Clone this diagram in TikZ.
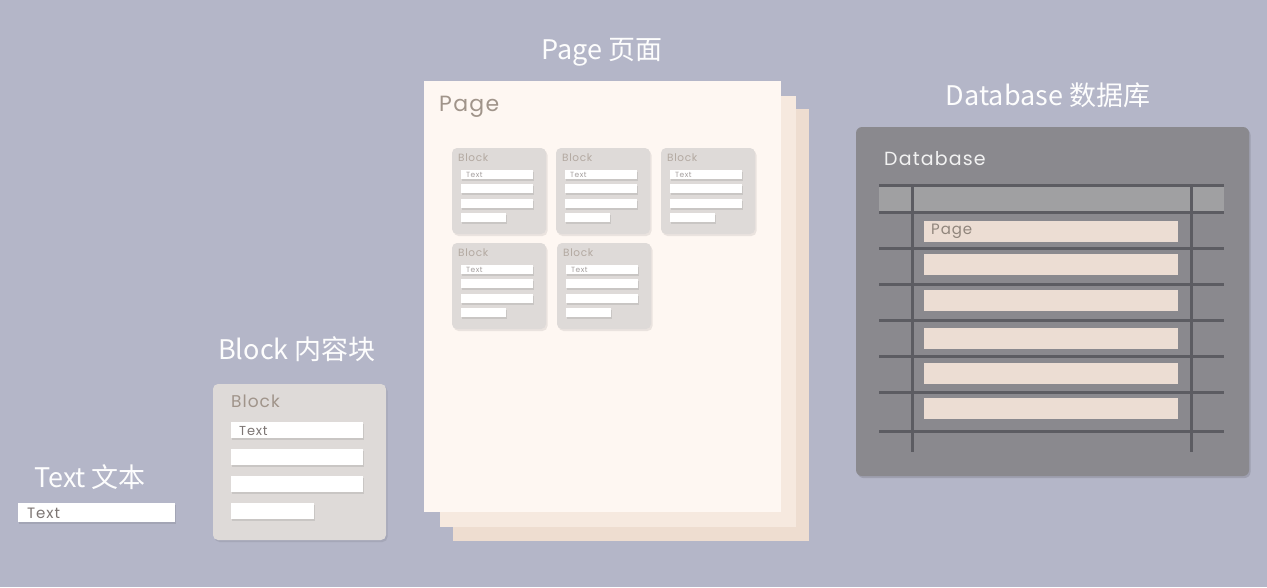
\documentclass[tikz,border=0pt]{standalone}
\usepackage{fontspec}
\setmainfont{Noto Sans CJK SC}
\newfontfamily\geofont[LetterSpace=6]{Poppins}
\usetikzlibrary{shadows}

\definecolor{bgcol}{RGB}{180,182,200}
\definecolor{blockcol}{RGB}{222,218,216}
\definecolor{pagecol}{RGB}{254,247,242}
\definecolor{pagetwo}{RGB}{246,233,223}
\definecolor{pagethree}{RGB}{238,221,208}
\definecolor{titlecol}{RGB}{160,148,138}
\definecolor{bartext}{RGB}{125,118,116}
\definecolor{dbcol}{RGB}{138,137,142}
\definecolor{dbhead}{RGB}{160,160,162}
\definecolor{dbline}{RGB}{92,92,98}
\definecolor{rowcol}{RGB}{236,221,211}

\tikzset{
  heading/.style={text=white!97!bgcol, inner sep=0pt, font=\fontsize{27}{31}\selectfont},
  box/.style={anchor=north west, inner sep=0pt, outer sep=0pt},
  bar/.style={box, fill=white,
    drop shadow={shadow xshift=1pt, shadow yshift=-1.5pt, opacity=.09, fill=black}},
  blockbox/.style={box, fill=blockcol, rounded corners=5pt,
    drop shadow={shadow xshift=1.5pt, shadow yshift=-2pt, opacity=.08, fill=black}},
  bartxt/.style={anchor=west, inner sep=0pt, text=bartext},
  boxtitle/.style={anchor=west, inner sep=0pt, text=titlecol},
  gridline/.style={dbline, line width=3pt},
}

\begin{document}
\begin{tikzpicture}[x=1pt, y=-1pt]
    \fill[bgcol] (0,0) rectangle (1267,587);
    \useasboundingbox (0,0) rectangle (1267,587);

    % text
    \node[heading] (texthead) at (90,477) {Text 文本};
    \node[bar, minimum width=157pt, minimum height=19pt] (textbar) at (18,503) {};
    \node[bartxt, font=\geofont\fontsize{15}{17}\selectfont] (texttxt) at (27,513) {Text};

    % block
    \node[heading] (blockhead) at (297,349) {Block 内容块};
    \node[blockbox, minimum width=173pt, minimum height=156pt] (block) at (213,384) {};
    \node[boxtitle, font=\geofont\fontsize{17}{19}\selectfont] (blocktitle) at (231,401) {Block};
    \foreach \ry/\rw/\nm in {422/132/a, 449/132/b, 476/132/c, 503/83/d}
      \node[bar, minimum width=\rw pt, minimum height=16pt] (blockbar\nm) at (231,\ry) {};
    \node[bartxt, font=\geofont\fontsize{13}{15}\selectfont] (blocktxt) at (239,431) {Text};

    % page stack
    \node[heading] (pagehead) at (602,52) {Page 页面};
    \node[box, fill=pagethree, minimum width=356pt, minimum height=432pt] (pagec) at (453,109) {};
    \node[box, fill=pagetwo, minimum width=356pt, minimum height=431pt] (pageb) at (440,96) {};
    \node[box, fill=pagecol, minimum width=357pt, minimum height=431pt] (page) at (424,81) {};
    \node[boxtitle, font=\geofont\fontsize{22}{24}\selectfont] (pagetitle) at (439,107) {Page};

    \foreach \bx/\by/\nm in {452/148/a, 556/148/b, 661/148/c, 452/243/d, 557/243/e} {
      \node[blockbox, minimum width=94pt, minimum height=86pt] (mini\nm) at (\bx,\by) {};
      \node[boxtitle, text=titlecol!80, font=\geofont\fontsize{10.5}{12}\selectfont]
        (minititle\nm) at (\bx+6,\by+10) {Block};
      \node[bar, minimum width=72pt, minimum height=9pt] (minia\nm) at (\bx+9,\by+22) {};
      \node[bar, minimum width=72pt, minimum height=9pt] (minib\nm) at (\bx+9,\by+36) {};
      \node[bar, minimum width=72pt, minimum height=9pt] (minic\nm) at (\bx+9,\by+51) {};
      \node[bar, minimum width=45pt, minimum height=9pt] (minid\nm) at (\bx+9,\by+65) {};
      \node[bartxt, text=bartext!70, font=\geofont\fontsize{7.5}{9}\selectfont]
        (minitxt\nm) at (\bx+14,\by+26.5) {Text};
    }

    % database
    \node[heading] (dbhead) at (1048,95) {Database 数据库};
    \node[box, fill=dbcol, rounded corners=6pt, minimum width=393pt, minimum height=349pt,
      drop shadow={shadow xshift=1.5pt, shadow yshift=-2pt, opacity=.12, fill=black}] (db) at (856,127) {};
    \node[anchor=west, inner sep=0pt, text=white!95!black,
      font=\geofont\fontsize{19}{21}\selectfont] (dbtitle) at (884,159) {Database};
    \fill[dbhead] (879,185) rectangle (1224,212);
    \foreach \ry/\nm in {221/a, 254/b, 290/c, 328/d, 363/e, 398/f}
      \node[box, fill=rowcol, minimum width=254pt, minimum height=21pt] (row\nm) at (924,\ry) {};
    \node[anchor=west, inner sep=0pt, text=titlecol!90!black,
      font=\geofont\fontsize{15}{17}\selectfont] (rowtxt) at (931,231.5) {Page};
    \foreach \ly in {185, 212, 248, 284, 320, 356, 392, 431}
      \draw[gridline] (879,\ly) -- (1224,\ly);
    \draw[gridline] (912,185) -- (912,452);
    \draw[gridline] (1191,185) -- (1191,452);
\end{tikzpicture}
\end{document}
